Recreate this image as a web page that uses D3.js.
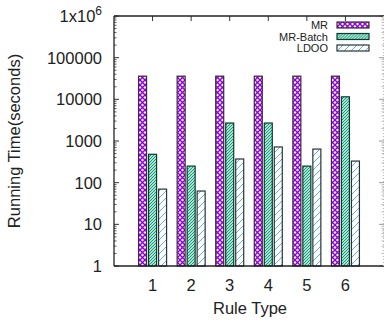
<!DOCTYPE html>
<html>
<head>
<meta charset="utf-8">
<script src="https://cdn.jsdelivr.net/npm/d3@7"></script>
<style>
  body { margin: 0; background: white; }
  text { font-family: "Liberation Sans", Arial, sans-serif; fill: #222; }
</style>
</head>
<body>
<div id="chart"></div>
<script>
// Data
var ruleTypes = [1, 2, 3, 4, 5, 6];
var seriesNames = ["MR", "MR-Batch", "LDOO"];
var mrValues = [36000, 36000, 36000, 36000, 36000, 36000];
var batchValues = [480, 250, 2700, 2700, 250, 11500];
var ldooValues = [70, 63, 370, 720, 640, 330];
var yTickValues = [1, 10, 100, 1000, 10000, 100000, 1000000];
var yTickLabels = ["1", "10", "100", "1000", "10000", "100000", "1x10^6"];

var width = 385, height = 322;
var margin = { top: 16, right: 1, bottom: 56, left: 114 };

var svg = d3.select("#chart").append("svg")
    .attr("width", width)
    .attr("height", height);

// Patterns for the bar fills
var defs = svg.append("defs");

var pMR = defs.append("pattern")
    .attr("id", "pat-mr")
    .attr("patternUnits", "userSpaceOnUse")
    .attr("width", 5).attr("height", 5);
pMR.append("rect").attr("width", 5).attr("height", 5).attr("fill", "white");
pMR.append("path").attr("d", "M0,0 L5,5 M5,0 L0,5")
    .attr("stroke", "#9400d3").attr("stroke-width", 1.4);

var pBatch = defs.append("pattern")
    .attr("id", "pat-batch")
    .attr("patternUnits", "userSpaceOnUse")
    .attr("width", 3).attr("height", 3);
pBatch.append("rect").attr("width", 3).attr("height", 3).attr("fill", "white");
pBatch.append("path").attr("d", "M-1,1 L1,-1 M0,3 L3,0 M2,4 L4,2")
    .attr("stroke", "#009e73").attr("stroke-width", 1.2);

var pLdoo = defs.append("pattern")
    .attr("id", "pat-ldoo")
    .attr("patternUnits", "userSpaceOnUse")
    .attr("width", 7).attr("height", 7);
pLdoo.append("rect").attr("width", 7).attr("height", 7).attr("fill", "white");
pLdoo.append("path").attr("d", "M-1,1 L1,-1 M0,7 L7,0 M6,8 L8,6")
    .attr("stroke", "#56b4e9").attr("stroke-width", 1);

var fills = ["url(#pat-mr)", "url(#pat-batch)", "url(#pat-ldoo)"];
var strokes = ["#3a2a40", "#0c3a2c", "#2a3238"];

// Scales
var xScale = d3.scaleLinear()
    .domain([0, 7])
    .range([margin.left, width - margin.right]);

var yScale = d3.scaleLog()
    .domain([1, 1e6])
    .range([height - margin.bottom, margin.top]);

var x0 = xScale.range()[0], x1 = xScale.range()[1];
var yb = yScale.range()[0], yt = yScale.range()[1];

// Minor ticks on the left axis
var minorTicks = [];
yTickValues.slice(0, -1).forEach(function (d) {
    for (var k = 2; k < 10; k++) minorTicks.push(d * k);
});

svg.append("g").selectAll("line")
    .data(minorTicks)
    .enter().append("line")
    .attr("x1", x0).attr("x2", x0 + 2.5)
    .attr("y1", d => yScale(d)).attr("y2", d => yScale(d))
    .attr("stroke", "#333").attr("stroke-width", 0.8);

svg.append("g").selectAll("line")
    .data(yTickValues)
    .enter().append("line")
    .attr("x1", x0).attr("x2", x0 + 5)
    .attr("y1", d => yScale(d)).attr("y2", d => yScale(d))
    .attr("stroke", "#333").attr("stroke-width", 1);

// Right side ticks (grey, partially cut)
svg.append("g").selectAll("line")
    .data(minorTicks)
    .enter().append("line")
    .attr("x1", x1 - 2.5).attr("x2", x1)
    .attr("y1", d => yScale(d)).attr("y2", d => yScale(d))
    .attr("stroke", "#aaa").attr("stroke-width", 0.8);

svg.append("g").selectAll("line")
    .data(yTickValues)
    .enter().append("line")
    .attr("x1", x1 - 5).attr("x2", x1)
    .attr("y1", d => yScale(d)).attr("y2", d => yScale(d))
    .attr("stroke", "#999").attr("stroke-width", 1);

// Top ticks at each rule type
svg.append("g").selectAll("line")
    .data(ruleTypes)
    .enter().append("line")
    .attr("x1", d => xScale(d)).attr("x2", d => xScale(d))
    .attr("y1", yt).attr("y2", yt + 5)
    .attr("stroke", "#333").attr("stroke-width", 1);

// Y tick labels
var yLabels = svg.append("g").selectAll("text")
    .data(yTickValues)
    .enter().append("text")
    .attr("x", x0 - 12)
    .attr("y", d => yScale(d) + 6)
    .attr("text-anchor", "end")
    .style("font-size", "16.5px");

yLabels.each(function (d, i) {
    var t = d3.select(this);
    var lab = yTickLabels[i];
    if (lab.indexOf("^") >= 0) {
        var parts = lab.split("^");
        t.append("tspan").text(parts[0]);
        t.append("tspan").attr("dy", -7).style("font-size", "12px").text(parts[1]);
    } else {
        t.text(lab);
    }
});

// X tick labels
svg.append("g").selectAll("text")
    .data(ruleTypes)
    .enter().append("text")
    .attr("x", d => xScale(d))
    .attr("y", yb + 25)
    .attr("text-anchor", "middle")
    .style("font-size", "16.5px")
    .text(d => d);

// Bars
var series = [mrValues, batchValues, ldooValues];
var offsets = [-10, 0, 10];
var barW = 8;

series.forEach(function (vals, s) {
    svg.append("g").selectAll("rect")
        .data(vals)
        .enter().append("rect")
        .attr("x", (d, i) => xScale(ruleTypes[i]) + offsets[s] - barW / 2)
        .attr("y", d => yScale(d))
        .attr("width", barW)
        .attr("height", d => yb - yScale(d))
        .attr("fill", fills[s])
        .attr("stroke", strokes[s])
        .attr("stroke-width", 1.2);
});

// Frame
svg.append("line")
    .attr("x1", x0).attr("x2", x0).attr("y1", yt).attr("y2", yb)
    .attr("stroke", "#222").attr("stroke-width", 1.3);
svg.append("line")
    .attr("x1", x0).attr("x2", x1).attr("y1", yb).attr("y2", yb)
    .attr("stroke", "#222").attr("stroke-width", 1.3);
svg.append("line")
    .attr("x1", x0).attr("x2", x1).attr("y1", yt).attr("y2", yt)
    .attr("stroke", "#222").attr("stroke-width", 1.3);
svg.append("line")
    .attr("x1", x1 - 0.5).attr("x2", x1 - 0.5).attr("y1", yt).attr("y2", yb)
    .attr("stroke", "#bbb").attr("stroke-width", 1)
    .attr("stroke-dasharray", "1,2");

// Legend
var legend = svg.append("g").selectAll("g")
    .data(seriesNames)
    .enter().append("g")
    .attr("transform", (d, i) => "translate(0," + (29 + i * 11.5) + ")");

legend.append("text")
    .attr("x", 328)
    .attr("y", 0)
    .attr("text-anchor", "end")
    .style("font-size", "11px")
    .text(d => d);

legend.append("rect")
    .attr("x", 337)
    .attr("y", -7)
    .attr("width", 32)
    .attr("height", 6)
    .attr("fill", (d, i) => fills[i])
    .attr("stroke", (d, i) => strokes[i])
    .attr("stroke-width", 1.2);

// Axis titles
svg.append("text")
    .attr("transform", "translate(20," + ((yt + yb) / 2) + ") rotate(-90)")
    .attr("text-anchor", "middle")
    .style("font-size", "16.5px")
    .text("Running Time(seconds)");

svg.append("text")
    .attr("x", 250)
    .attr("y", 314)
    .attr("text-anchor", "middle")
    .style("font-size", "16.5px")
    .text("Rule Type");
</script>
</body>
</html>
